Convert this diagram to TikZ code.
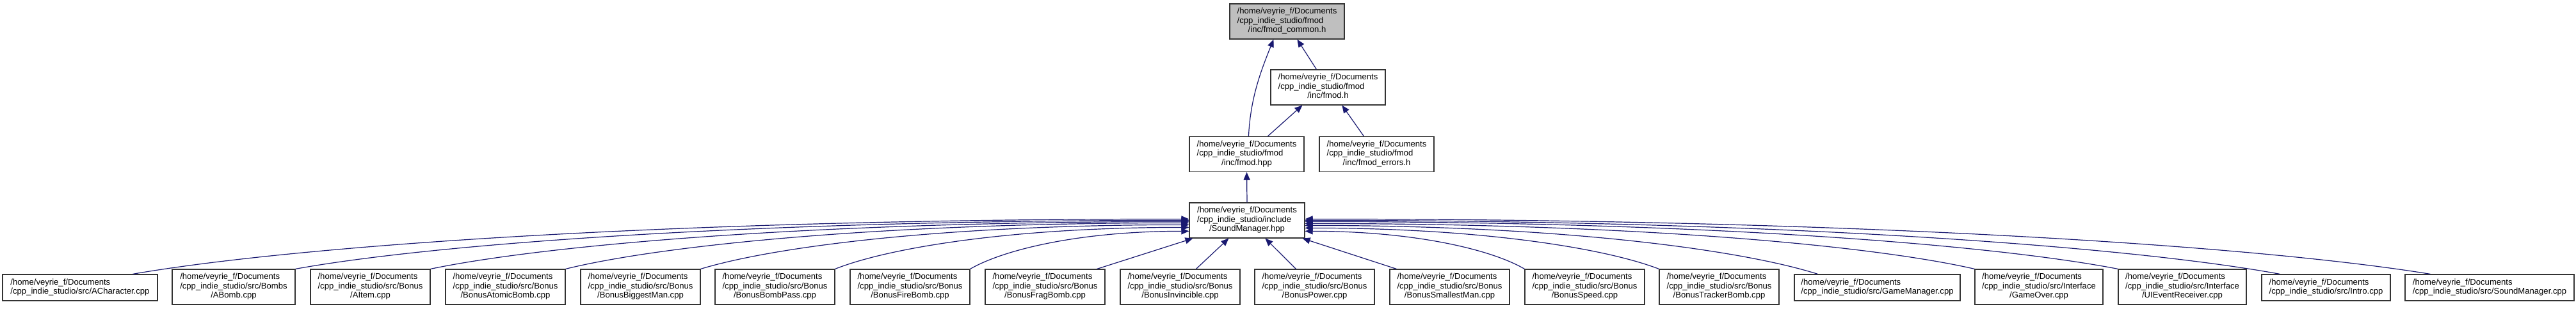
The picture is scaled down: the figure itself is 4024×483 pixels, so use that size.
\documentclass[tikz,border=0pt]{standalone}
\usepackage{fontspec}
\setmainfont{Liberation Sans}
\usetikzlibrary{arrows.meta,calc}
\definecolor{edgeblue}{HTML}{191970}
\definecolor{boxgray}{HTML}{BFBFBF}
\newcommand{\threel}[3]{\begin{tabular}{@{}l@{}}#1\\#2\\\multicolumn{1}{@{}c@{}}{#3}\end{tabular}}
\newcommand{\twol}[2]{\begin{tabular}{@{}l@{}}#1\\#2\end{tabular}}
\newcommand{\pHome}{/home/veyrie\_f/Documents}
\newcommand{\pCpp}{/cpp\_indie\_studio}
\begin{document}
\begin{tikzpicture}[x=1bp,y=-1bp,
  box/.style={draw=black!80, line width=1.2bp, fill=white, inner sep=0pt,
    font=\fontsize{13.1bp}{14.5bp}\selectfont, align=center},
  sz/.style 2 args={minimum width=#1bp, minimum height=#2bp},
  edge/.style={draw=edgeblue, line width=1.2bp, -{Triangle[length=12bp,width=10bp]}}]
\fill[white] (0,0) rectangle (4024,483);
\useasboundingbox (0,0) rectangle (4024,483);

% upper part
\node[box, sz={179}{55}, fill=boxgray] (fc) at (2010.5,33.5) {\threel{\pHome}{\pCpp/fmod}{/inc/fmod\_common.h}};
\node[box, sz={179}{55}] (fh) at (2074.5,136.5) {\threel{\pHome}{\pCpp/fmod}{/inc/fmod.h}};
\node[box, sz={179}{55}] (fhpp) at (1947.5,241) {\threel{\pHome}{\pCpp/fmod}{/inc/fmod.hpp}};
\node[box, sz={179}{55}] (ferr) at (2150.5,241) {\threel{\pHome}{\pCpp/fmod}{/inc/fmod\_errors.h}};
\node[box, sz={180}{55}] (smh) at (1948,344.5) {\threel{\pHome}{\pCpp/include}{/SoundManager.hpp}};

% bottom row
\node[box, sz={242}{41}] (ach) at (125,449.5) {\twol{\pHome}{\pCpp/src/ACharacter.cpp}};
\node[box, sz={192}{55}] (abomb) at (365,448.5) {\threel{\pHome}{\pCpp/src/Bombs}{/ABomb.cpp}};
\node[box, sz={187}{55}] (aitem) at (578.5,448.5) {\threel{\pHome}{\pCpp/src/Bonus}{/AItem.cpp}};
\node[box, sz={187}{55}] (atomic) at (789.5,448.5) {\threel{\pHome}{\pCpp/src/Bonus}{/BonusAtomicBomb.cpp}};
\node[box, sz={187}{55}] (biggest) at (1000.5,448.5) {\threel{\pHome}{\pCpp/src/Bonus}{/BonusBiggestMan.cpp}};
\node[box, sz={187}{55}] (bombpass) at (1210.5,448.5) {\threel{\pHome}{\pCpp/src/Bonus}{/BonusBombPass.cpp}};
\node[box, sz={187}{55}] (fire) at (1421.5,448.5) {\threel{\pHome}{\pCpp/src/Bonus}{/BonusFireBomb.cpp}};
\node[box, sz={187}{55}] (frag) at (1632.5,448.5) {\threel{\pHome}{\pCpp/src/Bonus}{/BonusFragBomb.cpp}};
\node[box, sz={187}{55}] (invinc) at (1843.5,448.5) {\threel{\pHome}{\pCpp/src/Bonus}{/BonusInvincible.cpp}};
\node[box, sz={187}{55}] (power) at (2053.5,448.5) {\threel{\pHome}{\pCpp/src/Bonus}{/BonusPower.cpp}};
\node[box, sz={187}{55}] (smallest) at (2264.5,448.5) {\threel{\pHome}{\pCpp/src/Bonus}{/BonusSmallestMan.cpp}};
\node[box, sz={187}{55}] (speed) at (2475.5,448.5) {\threel{\pHome}{\pCpp/src/Bonus}{/BonusSpeed.cpp}};
\node[box, sz={187}{55}] (tracker) at (2685.5,448.5) {\threel{\pHome}{\pCpp/src/Bonus}{/BonusTrackerBomb.cpp}};
\node[box, sz={259}{41}] (gamemgr) at (2932.5,449.5) {\twol{\pHome}{\pCpp/src/GameManager.cpp}};
\node[box, sz={200}{55}] (gameover) at (3185,448.5) {\threel{\pHome}{\pCpp/src/Interface}{/GameOver.cpp}};
\node[box, sz={200}{55}] (uievent) at (3409,448.5) {\threel{\pHome}{\pCpp/src/Interface}{/UIEventReceiver.cpp}};
\node[box, sz={201}{41}] (intro) at (3633.5,449.5) {\twol{\pHome}{\pCpp/src/Intro.cpp}};
\node[box, sz={264}{41}] (smcpp) at (3889,449.5) {\twol{\pHome}{\pCpp/src/SoundManager.cpp}};

% upper edges
\draw[edge] ($(fh.north west)+(72,0)$) -- ($(fc.south west)+(106,0)$);
\draw[edge] ($(fhpp.north west)+(93,0)$) .. controls +(3,-60) and +(-20,50) .. ($(fc.south west)+(69,0)$);
\draw[edge] ($(fhpp.north west)+(123,0)$) -- ($(fh.south west)+(50,0)$);
\draw[edge] ($(ferr.north west)+(70,0)$) -- ($(fh.south west)+(112,0)$);
\draw[edge] (smh.north) -- (fhpp.south);

% left group
\draw[edge] ($(ach.north west)+(204,0)$) .. controls +(248,-43) and +(-825,0) .. ($(smh.north west)+(0,26)$);
\draw[edge] (abomb.north east) .. controls +(210,-38) and +(-699,0) .. ($(smh.north west)+(0,28)$);
\draw[edge] (aitem.north east) .. controls +(178,-37) and +(-593,0) .. ($(smh.north west)+(0,30)$);
\draw[edge] (atomic.north east) .. controls +(146,-36) and +(-488,0) .. ($(smh.north west)+(0,32)$);
\draw[edge] (biggest.north east) .. controls +(115,-35) and +(-382,0) .. ($(smh.north west)+(0,35)$);
\draw[edge] (bombpass.north east) .. controls +(83,-33) and +(-277,0) .. ($(smh.north west)+(0,39)$);
\draw[edge] (fire.north east) .. controls +(52,-30) and +(-172,0) .. ($(smh.north west)+(0,45)$);

% below
\draw[edge] ($(frag.north east)+(-13,0)$) -- ($(smh.south west)+(6,0)$);
\draw[edge] ($(invinc.north west)+(119,0)$) -- ($(smh.south west)+(62,0)$);
\draw[edge] ($(power.north west)+(65,0)$) -- ($(smh.south west)+(119,0)$);
\draw[edge] ($(smallest.north west)+(11,0)$) -- ($(smh.south east)+(-4,0)$);

% right group
\draw[edge] (speed.north west) .. controls +(-51,-30) and +(172,0) .. ($(smh.north east)+(0,45)$);
\draw[edge] (tracker.north west) .. controls +(-83,-32) and +(277,0) .. ($(smh.north east)+(0,40)$);
\draw[edge] ($(gamemgr.north west)+(37,0)$) .. controls +(-120,-38) and +(401,0) .. ($(smh.north east)+(0,36)$);
\draw[edge] (gameover.north west) .. controls +(-157,-36) and +(524,0) .. ($(smh.north east)+(0,33)$);
\draw[edge] (uievent.north west) .. controls +(-191,-37) and +(636,0) .. ($(smh.north east)+(0,30)$);
\draw[edge] ($(intro.north west)+(29,0)$) .. controls +(-229,-42) and +(762,0) .. ($(smh.north east)+(0,28)$);
\draw[edge] ($(smcpp.north west)+(40,0)$) .. controls +(-264,-43) and +(880,0) .. ($(smh.north east)+(0,26)$);
\end{tikzpicture}
\end{document}
